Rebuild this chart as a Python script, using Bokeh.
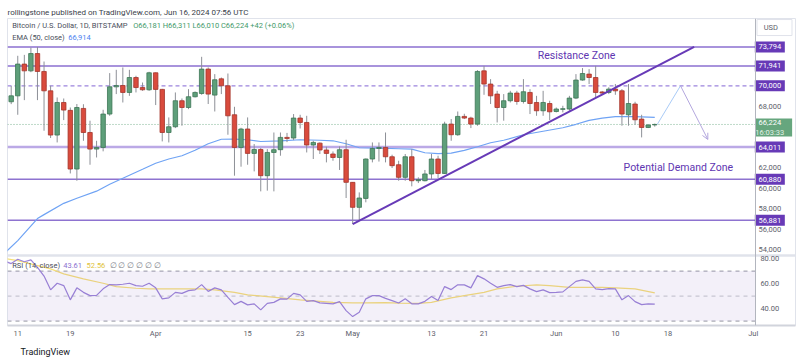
import pandas as pd
from bokeh.plotting import figure
from bokeh.models import (ColumnDataSource, Range1d, FixedTicker, Label, Arrow,
                          OpenHead, BoxAnnotation, Span, Title)
from bokeh.core.properties import value
from bokeh.embed import file_html
from bokeh.resources import INLINE

# ---------------- data ----------------
dates = pd.date_range("2024-03-10", "2024-06-16", freq="D")

open_ = [68440, 69020, 72120, 71460, 73150, 71400, 69510, 65190, 68370, 67600,
         61870, 67790, 65440, 63820, 63980, 67240, 69900, 70030, 69350, 70810,
         69830, 69610, 71270, 69650, 65440, 66000, 68540, 67880, 68930, 69250,
         71630, 69090, 70680, 70000, 67170, 63980, 65780, 63400, 63780, 61220,
         63490, 63760, 64960, 64900, 66850, 66420, 64220, 64400, 63730, 63340,
         63000, 63760, 60570, 58130, 59000, 62850, 63880, 63980, 63070, 62290,
         61060, 63070, 60730, 60730, 61390, 62850, 61440, 66260, 65220, 67010,
         66850, 66260, 71460, 70170, 69190, 67880, 68540, 69290, 68470, 69350,
         68370, 67560, 68270, 67490, 67700, 67730, 68800, 70560, 71140, 70810,
         69400, 69350, 69680, 69510, 67170, 68220, 66750, 65930, 66181]
high = [69990, 72930, 73020, 73740, 73800, 72370, 70000, 68860, 68760, 67880,
        68220, 68200, 66590, 64630, 67660, 71240, 71560, 71790, 71560, 70980,
        70320, 71370, 71300, 69700, 66910, 69350, 68760, 69670, 69450, 72830,
        71790, 71140, 70810, 71200, 67950, 65900, 66910, 64310, 63920, 63820,
        65440, 65440, 65400, 67240, 67170, 67070, 64630, 64470, 64050, 63590,
        64080, 64730, 60600, 59590, 62900, 64470, 64470, 65440, 63270, 62680,
        63340, 63820, 61060, 61780, 63340, 63170, 66490, 66750, 67490, 67270,
        66980, 71530, 71950, 70650, 69510, 69190, 69510, 69510, 70650, 69670,
        69020, 69510, 68540, 67880, 68050, 69020, 71140, 71730, 71630, 71950,
        69500, 69860, 70170, 69680, 70170, 68440, 67170, 66260, 66311]
low = [68210, 67170, 68600, 71330, 68600, 65610, 64900, 64470, 66650, 61440,
       60730, 64630, 62290, 63000, 63600, 67070, 69190, 68370, 69020, 69350,
       69510, 69510, 68120, 64570, 64470, 65870, 66100, 67720, 68860, 69120,
       68220, 67490, 69190, 65220, 61220, 62100, 62290, 61640, 59690, 59760,
       59690, 63170, 64500, 64700, 65830, 63490, 62850, 63340, 62520, 62680,
       61780, 59040, 56500, 56830, 58620, 62520, 62600, 62520, 61970, 60730,
       60730, 60180, 60500, 60670, 60900, 61000, 61390, 64630, 65120, 66750,
       65870, 66100, 69120, 68220, 66420, 66590, 68370, 68150, 68270, 67240,
       67070, 67070, 66650, 67400, 67400, 67560, 68700, 70500, 70170, 68860,
       69100, 69190, 69120, 66100, 66100, 66200, 64960, 65870, 66010]
close = [69020, 72120, 71460, 73150, 71400, 69510, 65190, 68370, 67630, 61870,
         67880, 65440, 63820, 63980, 67240, 69900, 70030, 69350, 70810, 69830,
         69610, 71270, 69650, 65440, 66000, 68540, 67880, 68930, 69350, 71630,
         69190, 70590, 70000, 67070, 63980, 65780, 63400, 63780, 61220, 63490,
         63760, 64960, 64860, 66850, 66420, 64220, 64470, 63730, 63400, 63000,
         63760, 60570, 58130, 59040, 62850, 63880, 63980, 63070, 62200, 61060,
         63070, 60730, 60830, 61390, 62850, 61440, 66260, 65220, 67010, 66850,
         66260, 71400, 70170, 69020, 67880, 68540, 69290, 68470, 69420, 68270,
         67560, 68370, 67460, 67730, 67760, 68800, 70560, 71200, 70810, 69350,
         69290, 69680, 69510, 67240, 68270, 66680, 65930, 66170, 66224]

ema_dates = ["2024-03-09", "2024-03-11", "2024-03-14", "2024-03-15", "2024-03-18",
             "2024-03-20", "2024-03-23", "2024-03-25", "2024-03-28", "2024-03-30",
             "2024-04-01", "2024-04-03", "2024-04-05", "2024-04-07", "2024-04-09",
             "2024-04-11", "2024-04-13", "2024-04-15", "2024-04-17", "2024-04-20",
             "2024-04-23", "2024-04-26", "2024-04-28", "2024-04-30", "2024-05-02",
             "2024-05-05", "2024-05-08", "2024-05-10", "2024-05-12", "2024-05-14",
             "2024-05-16", "2024-05-18", "2024-05-20", "2024-05-22", "2024-05-24",
             "2024-05-27", "2024-05-30", "2024-06-02", "2024-06-04", "2024-06-06",
             "2024-06-08", "2024-06-10", "2024-06-13", "2024-06-16"]
ema_vals = [53650, 54880, 57030, 57420, 58520, 59020, 59710, 60390, 61270, 61850,
            62440, 62850, 63170, 63710, 64340, 64780, 64800, 64730, 64560, 64630,
            64730, 64680, 64630, 64340, 63950, 63920, 63850, 63810, 63460, 63370,
            63430, 63700, 64050, 64440, 64680, 65220, 65560, 65900, 66240, 66630,
            66850, 66980, 66980, 66914]

rsi_dates = pd.date_range("2024-03-09", "2024-06-16", freq="D")
rsi_vals = [78.0, 76.0, 79.5, 77.5, 79.0, 73.0, 66.0, 55.0, 60.3, 58.4, 47.0,
            56.6, 53.0, 50.4, 50.6, 55.8, 59.2, 59.0, 59.5, 60.3, 58.4,
            57.9, 60.3, 56.6, 47.8, 48.6, 53.0, 52.2, 54.4, 55.0, 59.2,
            53.8, 56.6, 55.0, 49.0, 43.2, 45.8, 43.0, 43.8, 39.0, 44.2,
            45.0, 47.8, 47.6, 52.2, 51.0, 45.8, 46.4, 44.6, 44.2, 43.8,
            45.6, 38.4, 33.6, 37.0, 47.8, 50.4, 50.4, 48.2, 46.4, 44.5,
            47.8, 43.8, 43.8, 45.8, 49.6, 46.4, 57.6, 55.2, 59.0, 59.0,
            56.6, 66.4, 63.8, 60.3, 57.0, 58.4, 59.2, 57.6, 58.6, 55.8,
            53.6, 55.0, 52.8, 53.0, 53.4, 57.6, 61.8, 63.0, 61.8, 55.8,
            55.2, 56.0, 55.8, 47.0, 50.4, 45.6, 43.2, 43.8, 43.61]

rsi_ma_dates = ["2024-03-09", "2024-03-11", "2024-03-16", "2024-03-18", "2024-03-21",
                "2024-03-24", "2024-03-26", "2024-03-29", "2024-03-31", "2024-04-03",
                "2024-04-08", "2024-04-10", "2024-04-13", "2024-04-15", "2024-04-18",
                "2024-04-20", "2024-04-23", "2024-04-26", "2024-04-28", "2024-05-01",
                "2024-05-03", "2024-05-06", "2024-05-08", "2024-05-11", "2024-05-13",
                "2024-05-16", "2024-05-18", "2024-05-21", "2024-05-23", "2024-05-26",
                "2024-05-29", "2024-05-31", "2024-06-03", "2024-06-05", "2024-06-08",
                "2024-06-10", "2024-06-13", "2024-06-16"]
rsi_ma_vals = [80.0, 78.4, 71.8, 67.8, 63.8, 60.3, 57.6, 56.3, 55.8, 55.8,
               55.8, 55.0, 53.0, 51.0, 49.6, 48.6, 47.0, 45.8, 45.0, 44.6,
               44.6, 44.8, 44.4, 44.2, 45.0, 48.6, 50.4, 53.0, 55.8, 57.9,
               59.0, 58.4, 57.0, 57.0, 57.0, 56.6, 55.8, 52.56]

levels = [73794, 71941, 70000, 64011, 60880, 56881]
price_ticks = [54000, 56000, 58000, 60000, 62000, 68000]
rsi_ticks = [40, 60, 80]
rsi_bands = [30, 50, 70]

trend_dates = ["2024-05-01", "2024-06-22"]
trend_prices = [56500, 73810]
proj_dates = ["2024-06-16 09:00", "2024-06-19 22:00", "2024-06-24 02:00"]
proj_prices = [66224, 70000, 64760]

zone_dates = ["2024-06-04 02:00", "2024-06-19 14:00"]
zone_prices = [72960, 62020]
zone_texts = ["Resistance Zone", "Potential Demand Zone"]

time_tick_dates = ["2024-03-11", "2024-03-19", "2024-04-01", "2024-04-15", "2024-04-23",
                   "2024-05-01", "2024-05-13", "2024-05-21", "2024-06-01", "2024-06-10",
                   "2024-06-18", "2024-07-01"]
time_tick_labels = ["11", "19", "Apr", "15", "23", "May", "13", "21", "Jun", "10", "18", "Jul"]

header_text = "rollingstone published on TradingView.com, Jun 16, 2024 07:56 UTC"
footer_text = "TradingView"

# ---------------- layout helpers ----------------
DAY = 86400000.0
def ms(t):
    return pd.Timestamp(t).value / 1e6

t0 = ms("2024-03-10")
x_start = t0 - 0.563 * DAY
x_end = t0 + 119.43 * DAY
axis_x = t0 + 113.34 * DAY
lab_x = t0 + 115.52 * DAY
last_x = t0 + 116.1 * DAY
usd_x = t0 + 116.23 * DAY

FONT = value("Roboto")
PURPLE = "#673ab7"

p = figure(width=800, height=364, x_axis_type="datetime",
           x_range=Range1d(x_start, x_end), y_range=Range1d(46591, 76572),
           y_axis_location=None, output_backend="svg", toolbar_location=None,
           min_border_left=7, min_border_right=5, min_border_top=18, min_border_bottom=39)
p.extra_y_ranges = {"rsi": Range1d(26.48, 272.08)}
p.xgrid.visible = False
p.ygrid.visible = False
p.outline_line_color = "#e0e3eb"
p.background_fill_color = "white"
p.border_fill_color = "white"

# header / footer titles
p.title.text = header_text
p.title.align = "left"
p.title.offset = 0
p.title.standoff = 4
p.title.text_font = "Roboto"
p.title.text_font_size = "8px"
p.title.text_font_style = "normal"
p.title.text_color = "#3a3e4a"
p.add_layout(Title(text=footer_text, align="left", offset=13, standoff=8,
                   text_font="Roboto", text_font_size="9px", text_font_style="normal",
                   text_color="#131722"), "below")

xa = p.xaxis[0]
tick_ms = [ms(d) for d in time_tick_dates]
xa.ticker = FixedTicker(ticks=tick_ms)
xa.major_label_overrides = {t: l for t, l in zip(tick_ms, time_tick_labels)}
xa.major_tick_line_color = None
xa.minor_tick_line_color = None
xa.major_tick_out = 0
xa.axis_line_color = "#d1d4dc"
xa.axis_line_width = 2
xa.major_label_text_font = "Roboto"
xa.major_label_text_font_size = "7.5px"
xa.major_label_text_color = "#5d606b"
xa.major_label_standoff = 3

# RSI pane background band and levels
p.add_layout(BoxAnnotation(left=x_start, right=axis_x, bottom=30, top=70, y_range_name="rsi",
                           fill_color="#7e57c2", fill_alpha=0.09, line_color=None))
for lv in rsi_bands:
    p.segment(x0=[x_start], x1=[axis_x], y0=[lv], y1=[lv], y_range_name="rsi",
              line_color="#9598a1" if lv != 50 else "#c3c5cc", line_width=1, line_dash="4 4")
# pane separator
p.segment(x0=[x_start], x1=[x_end], y0=[82.5], y1=[82.5], y_range_name="rsi",
          line_color="#e0e3eb", line_width=2.5)

# horizontal price levels
lvl_style = {73794: ("#a893dc", 2, "solid"), 71941: ("#a893dc", 2, "solid"),
             70000: ("#9c84dd", 1.2, "4 3"), 64011: ("#bba9e6", 2.5, "solid"),
             60880: ("#8e73d0", 1.5, "solid"), 56881: ("#8e73d0", 1.5, "solid")}
for lv in levels:
    c, w, d = lvl_style[lv]
    p.segment(x0=[x_start], x1=[axis_x], y0=[lv], y1=[lv], line_color=c, line_width=w, line_dash=d)

# current price dotted line
p.segment(x0=[x_start], x1=[axis_x], y0=[close[-1]], y1=[close[-1]],
          line_color="#7db593", line_width=1, line_dash="1 2")

# EMA
p.line(x=pd.to_datetime(ema_dates), y=ema_vals, line_color="#6fa3f4", line_width=1.2)

# candles
df = pd.DataFrame(dict(date=dates, open=open_, high=high, low=low, close=close))
df["top"] = df[["open", "close"]].max(axis=1)
df["bottom"] = df[["open", "close"]].min(axis=1)
inc = df[df.close >= df.open]
dec = df[df.close < df.open]
p.segment(x0="date", y0="high", x1="date", y1="low", source=ColumnDataSource(df),
          line_color="#8d9097", line_width=1)
p.vbar(x="date", width=0.68 * DAY, top="top", bottom="bottom", source=ColumnDataSource(inc),
       fill_color="#5e9f7a", line_color="#3d7656", line_width=0.8)
p.vbar(x="date", width=0.68 * DAY, top="top", bottom="bottom", source=ColumnDataSource(dec),
       fill_color="#d94b3d", line_color="#a3352b", line_width=0.8)

# trend line
p.line(x=pd.to_datetime(trend_dates), y=trend_prices, line_color=PURPLE, line_width=2)

# projection path
pd_ms = [ms(d) for d in proj_dates]
p.line(x=pd_ms[:2], y=proj_prices[:2], line_color="#a9cbf7", line_width=1)
p.add_layout(Arrow(x_start=pd_ms[1], y_start=proj_prices[1], x_end=pd_ms[2], y_end=proj_prices[2],
                   line_color="#b3a7de", line_width=1,
                   end=OpenHead(size=6, line_color="#b3a7de", line_width=1)))

# zone texts
p.text(x=pd.to_datetime(zone_dates), y=zone_prices, text=zone_texts, text_font=FONT,
       text_font_size="10.5px", text_color="#5e35b1", text_align="center",
       text_baseline="middle")

# RSI + MA
p.line(x=pd.to_datetime(rsi_ma_dates), y=rsi_ma_vals, y_range_name="rsi",
       line_color="#f6df78", line_width=1.2)
p.line(x=rsi_dates, y=rsi_vals, y_range_name="rsi", line_color="#9c84d8", line_width=1.2)

# right price scale (separator, labels)
p.add_layout(Span(location=axis_x, dimension="height", line_color="#b2b5be", line_width=1))
p.text(x=[lab_x] * len(price_ticks), y=price_ticks, text=[f"{v:,}" for v in price_ticks],
       text_font=FONT, text_font_size="7.5px", text_color="#5d606b",
       text_align="center", text_baseline="middle")
p.text(x=[lab_x] * len(rsi_ticks), y=rsi_ticks, text=[f"{v:.2f}" for v in rsi_ticks],
       y_range_name="rsi", text_font=FONT, text_font_size="7.5px", text_color="#5d606b",
       text_align="center", text_baseline="middle")
p.rect(x=[lab_x] * len(levels), y=levels, width=30, height=11, width_units="screen",
       height_units="screen", fill_color=PURPLE, line_color=None)
p.text(x=[lab_x] * len(levels), y=levels, text=[f"{v:,}" for v in levels],
       text_font=FONT, text_font_size="7.5px", text_color="white",
       text_align="center", text_baseline="middle")
# last price box
p.rect(x=[last_x], y=[close[-1] - 290], width=37, height=18, width_units="screen",
       height_units="screen", fill_color="#66a67e", line_color=None)
p.text(x=[lab_x], y=[close[-1]], text=[f"{close[-1]:,}"], y_offset=-1.5,
       text_font=FONT, text_font_size="7.5px", text_color="white",
       text_align="center", text_baseline="middle")
p.text(x=[lab_x], y=[close[-1]], text=["16:03:33"], y_offset=8,
       text_font=FONT, text_font_size="7.5px", text_color="#e3f1e7",
       text_align="center", text_baseline="middle")
# USD box
p.rect(x=[usd_x], y=[75690], width=35, height=16, width_units="screen", height_units="screen",
       fill_color="white", line_color="#e0e3eb")
p.text(x=[usd_x - 0.55 * DAY], y=[75690], text=["USD"], text_font=FONT, text_font_size="7.5px",
       text_color="#5d606b", text_align="center", text_baseline="middle")

# legends inside the panes (screen units, relative to the plot frame)
def lab(x, y, text, color, size="7.5px"):
    p.add_layout(Label(x=x, y=y, x_units="screen", y_units="screen", text=text,
                       text_font="Roboto", text_font_size=size, text_color=color,
                       text_baseline="middle"))

lab(4.7, 300, "Bitcoin / U.S. Dollar, 1D, BITSTAMP", "#4a4e5a")
lab(125.7, 300, "O66,181  H66,311  L66,010  C66,224  +42 (+0.06%)", "#3f9a6a")
lab(4.7, 288.3, "EMA (50, close)", "#4a4e5a")
lab(60.7, 288.3, "66,914", "#4a7ff0")
lab(4.7, 60.3, "RSI (14, close)", "#4a4e5a")
lab(55.7, 60.3, "43.61", "#8a6fd0")
lab(79, 60.3, "52.56", "#e0c23a")
lab(102, 60.3, "\u2205  \u2205  \u2205  \u2205  \u2205  \u2205", "#787b86")

open("out.html", "w").write(file_html(p, INLINE))
